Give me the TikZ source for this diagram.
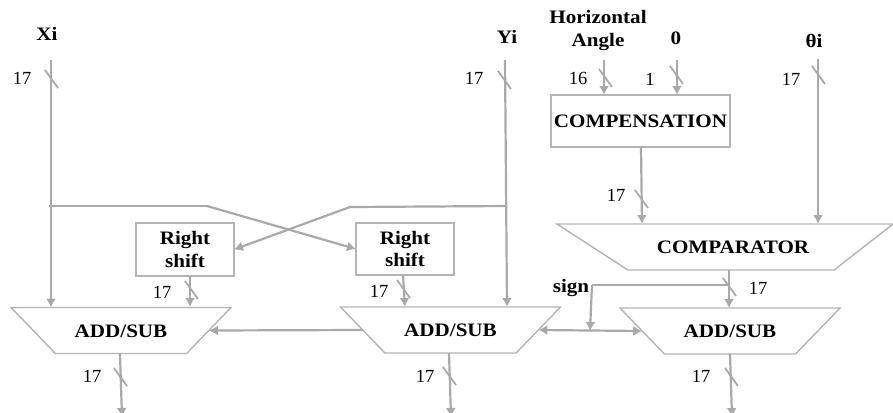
\documentclass[tikz,border=0pt]{standalone}
\usepackage{fontspec}
\setmainfont{Liberation Serif}
\newfontfamily\widebf[FakeStretch=1.11]{Liberation Serif Bold}
\usetikzlibrary{arrows.meta,positioning,shapes.geometric}
\definecolor{WireGray}{HTML}{A9A9A9}
\definecolor{BlockGray}{HTML}{B4B4B4}
\tikzset{
  box/.style={draw=BlockGray, line width=1.4bp, fill=white, inner sep=0pt, outer sep=0pt, align=center, font=\widebf\fontsize{19bp}{22.5bp}\selectfont},
  trapbox/.style={box, trapezium, trapezium stretches body=true, shape border rotate=180, text height=29.5bp, text depth=16.5bp},
  addsub/.style={trapbox, minimum width=220bp, trapezium left angle=46, trapezium right angle=46},
  title/.style={inner sep=0pt, align=center, font=\widebf\fontsize{19bp}{23bp}\selectfont},
  width/.style={inner sep=0pt, font=\fontsize{18.5bp}{20bp}\selectfont},
  arr/.style={-{Latex[length=9bp,width=10bp]}, line width=2.2bp, draw=WireGray},
  wire/.style={line width=2.2bp, draw=WireGray},
  tick/.style={line width=1.8bp, draw=WireGray}
}
\begin{document}
\begin{tikzpicture}[x=1bp,y=-1bp]
\useasboundingbox (0,0) rectangle (893,412);
% inputs
\node[title] (xi) at (47,34) {Xi};
\node[title] (yi) at (507,37) {Yi};
\node[title] (hangle) at (598,30) {Horizontal\\Angle};
\node[title] (zero) at (676,38) {0};
\node[title] (thetai) at (814,41) {θi};
% blocks
\node[box, minimum width=179bp, minimum height=52bp] (comp) at (640.5,121) {COMPENSATION};
\node[box, minimum width=98bp, minimum height=53bp] (rshiftl) at (185,249.5) {Right\\shift};
\node[box, minimum width=98bp, minimum height=52bp] (rshiftr) at (405,249) {Right\\shift};
\node[trapbox, minimum width=336bp, trapezium left angle=38, trapezium right angle=33] (comparator) at (731,247) {\hspace*{4bp}COMPARATOR};
\node[addsub] (addx) at (121,330.5) {ADD/SUB};
\node[addsub] (addy) at (450.5,330) {ADD/SUB};
\node[addsub] (addz) at (730,331) {ADD/SUB};
% free ends and bends
\coordinate (xin) at (51,60);
\coordinate (yin) at (505,60);
\coordinate (hin) at (604,60);
\coordinate (zin) at (677,60);
\coordinate (thin) at (818,59);
\coordinate (xtap) at (49,206);
\coordinate (xbend) at (207,206);
\coordinate (ytap) at (507,206);
\coordinate (ybend) at (350,207);
\coordinate (signtap) at (729,285);
\coordinate (signbend) at (592,285);
\coordinate (xout) at (122,417);
\coordinate (yout) at (451,417);
\coordinate (zout) at (732,417);
% connectors
\draw[arr] (xin) -- (xin |- addx.north);
\draw[arr] (yin) -- ([xshift=2bp]yin |- addy.north);
\draw[arr] (hin) -- (hin |- comp.north);
\draw[arr] (zin) -- (zin |- comp.north);
\draw[arr] (thin) -- (thin |- comparator.north);
\draw[wire] (xtap) -- (xbend);
\draw[arr] (xbend) -- (rshiftr.west);
\draw[wire] (ytap) -- (ybend);
\draw[arr] (ybend) -- (rshiftl.east);
\draw[arr] (641,147) -- (642,224);
\draw[arr] (rshiftl.south -| 190,0) -- (190,307);
\draw[arr] (rshiftr.south -| 403,0) -- (405,307);
\draw[arr] (729,270) -- (729,308);
\draw[wire] (signtap) -- (signbend);
\draw[arr] (signbend) -- (590,331);
\draw[arr] (addy.west) -- (addx.east);
\draw[{Latex[length=9bp,width=10bp]}-{Latex[length=9bp,width=10bp]}, wire] (addy.east) -- (addz.west);
\draw[arr] (120,354) -- (xout);
\draw[arr] (449,353) -- (yout);
\draw[arr] (730,354) -- (zout);
% bus marks
\foreach \x/\y in {45/70,498/71,599/69,670/66,812/66,635/190,185/281,397/280,723/278,114/368,443/367,725/368}{
  \draw[tick] (\x,\y) -- +(13,18);
}
\foreach \x/\y/\lab [count=\i] in {22/78/17,474/78/17,578/78/16,650/79/1,791/79/17,616/195/17,162/292/17,379/291/17,758/288/17,92/376/17,425/376/17,701/376/17}{
  \node[width] (bus\i) at (\x,\y) {\lab};
}
\node[title] (sign) at (571,288) {sign};
\end{tikzpicture}
\end{document}
